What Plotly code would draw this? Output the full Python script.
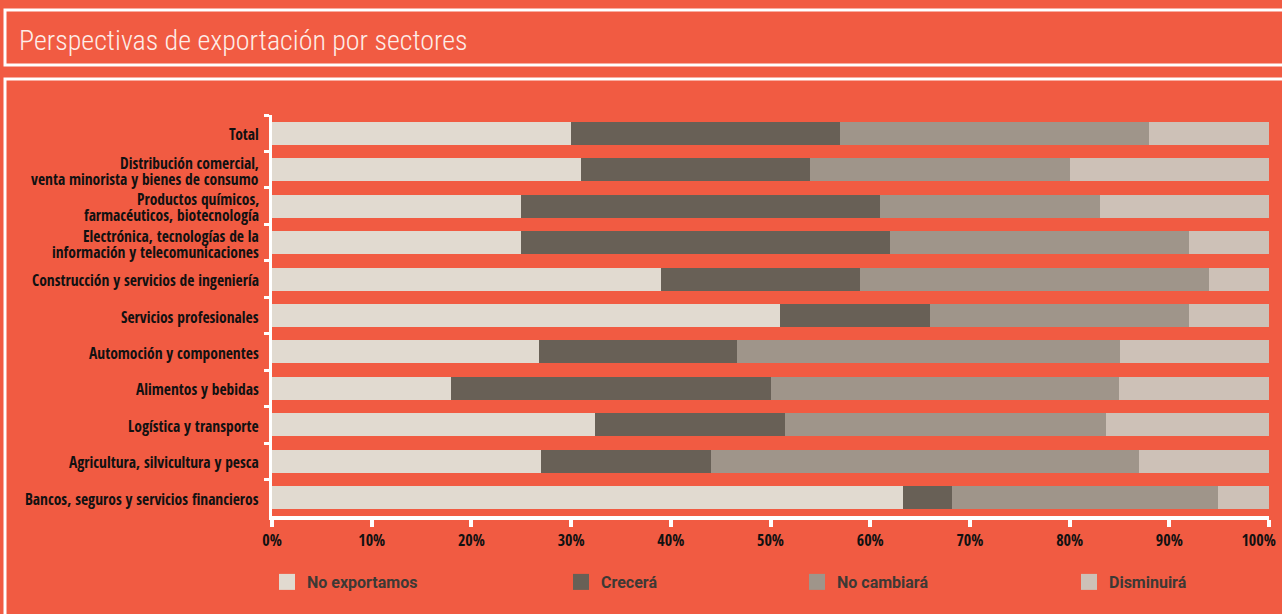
import plotly.graph_objects as go

# sectors, top to bottom
sectores = [
    "Total",
    "Distribución comercial,<br>venta minorista y bienes de consumo",
    "Productos químicos,<br>farmacéuticos, biotecnología",
    "Electrónica, tecnologías de la<br>información y telecomunicaciones",
    "Construcción y servicios de ingeniería",
    "Servicios profesionales",
    "Automoción y componentes",
    "Alimentos y bebidas",
    "Logística y transporte",
    "Agricultura, silvicultura y pesca",
    "Bancos, seguros y servicios financieros",
]

no_exportamos = [30, 31, 25, 25, 39, 51, 26.8, 18, 32.4, 27, 63.3]
crecera = [27, 23, 36, 37, 20, 15, 19.8, 32, 19.1, 17, 4.9]
no_cambiara = [31, 26, 22, 30, 35, 26, 38.5, 35, 32.2, 43, 26.7]
disminuira = [12, 20, 17, 8, 6, 8, 14.9, 15, 16.3, 13, 5.1]

tick_vals = [0, 10, 20, 30, 40, 50, 60, 70, 80, 90, 100]
tick_text = ["%d%%" % v for v in tick_vals]
# last label sits against the page edge, nudge it left with trailing nbsp
tick_text[-1] = tick_text[-1] + "\u00a0" * 5

series = [
    ("No exportamos", no_exportamos, "#E1DAD0"),
    ("Crecerá", crecera, "#686056"),
    ("No cambiará", no_cambiara, "#9F958A"),
    ("Disminuirá", disminuira, "#CDC1B7"),
]

BG = "#F15B42"
FONT = "Open Sans Condensed"
LEG_FONT = "Roboto"
TITLE_FONT = "Roboto Condensed"

# page geometry (pixels)
W, H = 1282, 614
PL, PR, PT, PB = 272, 1269, 115, 516


def px_x(p):
    return (p - PL) / (PR - PL)


def px_y(p):
    return (PB - p) / (PB - PT)


fig = go.Figure()

legend_px = [267, 561, 797, 1069]
legend_names = ["legend", "legend2", "legend3", "legend4"]

for (name, vals, color), lg in zip(series, legend_names):
    fig.add_trace(go.Bar(
        y=sectores, x=vals, name=name, orientation="h",
        marker=dict(color=color, line=dict(width=0)),
        showlegend=False,
    ))
    # legend swatch
    fig.add_trace(go.Scatter(
        x=[None], y=[None], mode="markers", name=name,
        marker=dict(symbol="square", size=17, color=color, line=dict(width=0)),
        legend=lg, showlegend=True,
    ))

legend_cfg = {}
for lg, lx in zip(legend_names, legend_px):
    legend_cfg[lg] = dict(
        x=px_x(lx), y=px_y(582), xanchor="left", yanchor="middle",
        orientation="h", bgcolor="rgba(0,0,0,0)", borderwidth=0,
        font=dict(family=LEG_FONT, size=16, color="#3D3935", weight="bold"),
    )

# category labels next to the axis (tight line spacing for the two-line ones)
annotations = []
for s in sectores:
    lines = s.split("<br>")
    n = len(lines)
    for i, ln in enumerate(lines):
        annotations.append(dict(
            text=ln, xref="paper", yref="y", x=px_x(261), y=s,
            xanchor="right", yanchor="middle", showarrow=False,
            yshift=(n - 1) * 8 - i * 16 - 1,
            font=dict(family=FONT, size=15.5, color="#111111", weight="bold"),
        ))

annotations.append(dict(
    text="Perspectivas de exportación por sectores",
    xref="paper", yref="paper", x=px_x(17), y=px_y(40),
    xanchor="left", yanchor="middle", showarrow=False,
    font=dict(family=TITLE_FONT, size=28, color="#FDEDE8", weight=300)))

fig.update_layout(
    width=W, height=H,
    margin=dict(l=PL, r=W - PR, t=PT, b=H - PB, pad=0),
    paper_bgcolor=BG, plot_bgcolor=BG,
    barmode="stack", bargap=0.37,
    **legend_cfg,
    xaxis=dict(
        range=[0, 100], tickmode="array", tickvals=tick_vals, ticktext=tick_text,
        showgrid=False, zeroline=False,
        showline=True, linecolor="white", linewidth=4,
        ticks="outside", ticklen=7, tickwidth=4, tickcolor="white",
        tickfont=dict(family=FONT, size=16, color="#111111", weight="bold"),
        ticklabeloverflow="allow", automargin=False,
        fixedrange=True,
    ),
    yaxis=dict(
        autorange="reversed",
        showgrid=False, zeroline=False, showticklabels=False,
        showline=True, linecolor="white", linewidth=3,
        ticks="outside", tickson="boundaries", ticklen=5, tickwidth=3,
        tickcolor="white", automargin=False,
        fixedrange=True,
    ),
    shapes=[
        dict(type="rect", xref="paper", yref="paper",
             x0=px_x(5), x1=px_x(1300), y0=px_y(65), y1=px_y(10),
             line=dict(color="white", width=3), layer="below"),
        dict(type="rect", xref="paper", yref="paper",
             x0=px_x(5), x1=px_x(1300), y0=px_y(640), y1=px_y(79),
             line=dict(color="white", width=3), layer="below"),
    ],
    annotations=annotations,
)

fig.write_html("out.html", config={"displayModeBar": False},
               post_script="document.body.style.margin='0';document.body.style.background='%s';" % BG)
